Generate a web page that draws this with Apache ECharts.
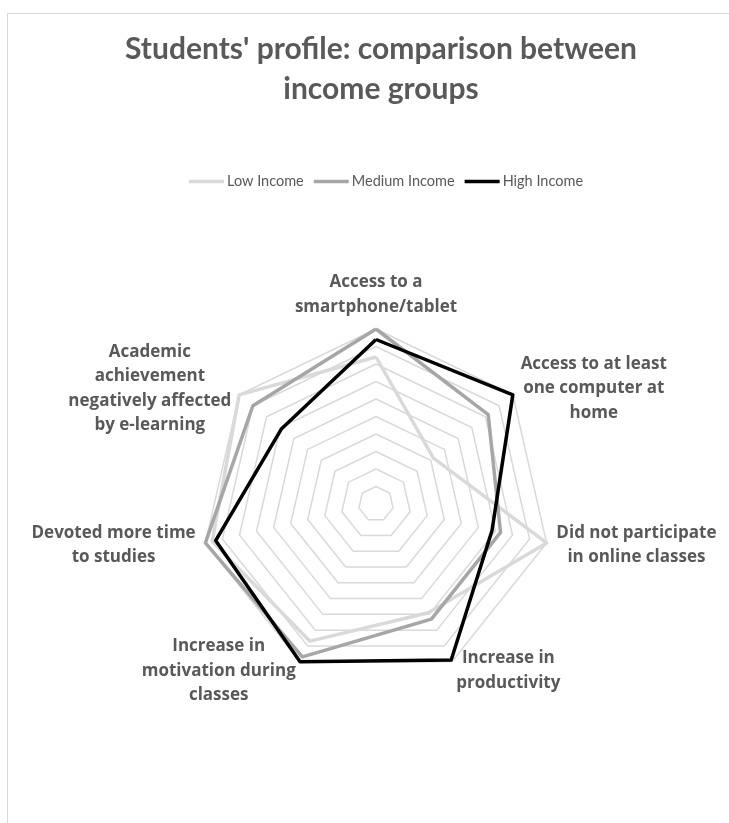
<!DOCTYPE html>
<html>
<head>
<meta charset="utf-8">
<script src="https://cdn.jsdelivr.net/npm/echarts@6/dist/echarts.min.js"></script>
<style>
  html, body { margin: 0; padding: 0; background: #fff; overflow: hidden; }
  #frame { position: absolute; left: 7px; top: 13px; width: 900px; height: 1000px; border: 1px solid #d9d9d9; box-sizing: border-box; }
  #chart { position: absolute; left: 0; top: 0; width: 729px; height: 823px; }
</style>
</head>
<body>
<div id="frame"></div>
<div id="chart"></div>
<script>
// Radar axes, listed clockwise starting from the top
const categories = [
  'Access to a\nsmartphone/tablet',
  'Access to at least\none computer at\nhome',
  'Did not participate\nin online classes',
  'Increase in\nproductivity',
  'Increase in\nmotivation during\nclasses',
  'Devoted more time\nto studies',
  'Academic\nachievement\nnegatively affected\nby e-learning'
];

const seriesNames = ['Low Income', 'Medium Income', 'High Income'];
const lowIncome    = [84, 42, 100, 69, 87, 96, 100];
const mediumIncome = [100, 82, 73, 73, 97, 100, 90];
const highIncome   = [94, 100, 68, 99, 100, 94, 69];

const axisMax = 100;
const seriesColors = ['#d9d9d9', '#a6a6a6', '#000000'];

// ECharts lays radar indicators out counter-clockwise, so keep the first
// axis at the top and walk the rest backwards to read clockwise.
const order = [0, 6, 5, 4, 3, 2, 1];
const reorder = arr => order.map(i => arr[i]);

const chart = echarts.init(document.getElementById('chart'), null, { renderer: 'canvas' });

const labelFont = { color: '#595959', fontFamily: 'Open Sans', fontWeight: 'bold', fontSize: 17, lineHeight: 24.5 };

chart.setOption({
  backgroundColor: 'transparent',
  animation: false,
  title: {
    text: "Students' profile: comparison between\nincome groups",
    left: 376,
    textAlign: 'center',
    top: 24,
    textStyle: {
      fontFamily: 'Lato',
      fontWeight: 'bold',
      fontSize: 30,
      lineHeight: 40,
      color: '#595959'
    }
  },
  legend: {
    top: 169,
    left: 184,
    icon: 'rect',
    itemWidth: 35,
    itemHeight: 3.5,
    itemGap: 10,
    data: seriesNames,
    textStyle: { fontFamily: 'Lato', fontSize: 14.5, color: '#595959', padding: [0, 0, 0, -2] }
  },
  radar: {
    center: [376, 504],
    radius: 175,
    startAngle: 90,
    splitNumber: 10,
    shape: 'polygon',
    indicator: reorder(categories).map(name => ({ name: name, min: 0, max: axisMax })),
    axisLine: { show: false },
    axisTick: { show: false },
    axisLabel: { show: false },
    splitArea: { show: false },
    splitLine: { lineStyle: { color: '#d9d9d9', width: 1.5 } },
    nameGap: 10,
    axisName: Object.assign({}, labelFont, {
      formatter: function (name) {
        return name.split('\n').map(l => '{c|' + l + '}').join('\n');
      },
      rich: { c: Object.assign({ align: 'center' }, labelFont) }
    })
  },
  series: [{
    type: 'radar',
    symbol: 'none',
    data: [lowIncome, mediumIncome, highIncome].map((vals, i) => ({
      name: seriesNames[i],
      value: reorder(vals),
      itemStyle: { color: seriesColors[i] },
      lineStyle: { color: seriesColors[i], width: 3.5 }
    }))
  }]
});
</script>
</body>
</html>
